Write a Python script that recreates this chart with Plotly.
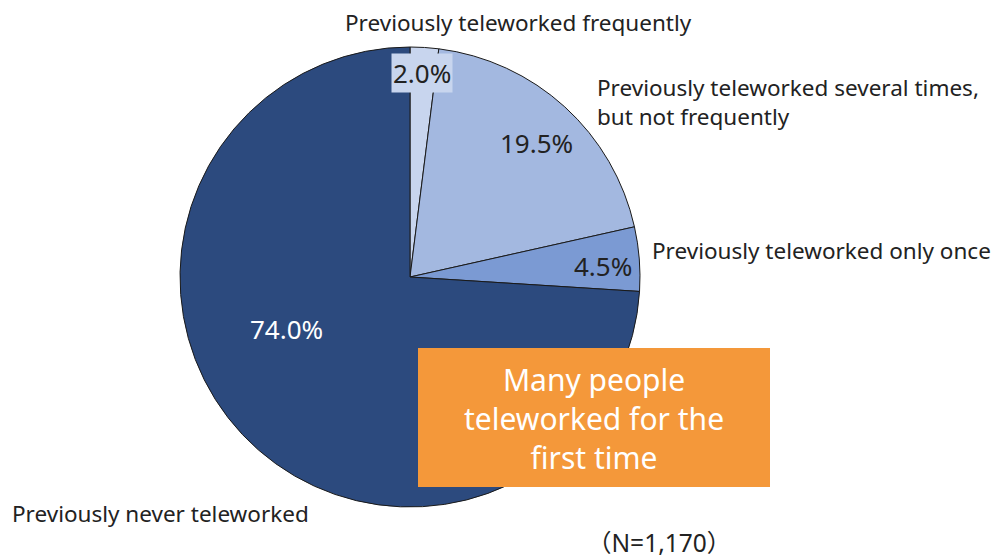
import plotly.graph_objects as go

categories = ["Previously teleworked frequently",
              "Previously teleworked several times,<br>but not frequently",
              "Previously teleworked only once",
              "Previously never teleworked"]
values = [2.0, 19.5, 4.5, 74.0]
colors = ["#c8d5ee", "#a3b8e0", "#7b9ad3", "#2c4a7e"]
note = "（N=1,170）"
callout = "Many people<br>teleworked for the<br>first time"

W, H = 998, 559
FONT = "Noto Sans"

def px(x):
    return x / W

def py(y):
    return 1 - y / H

fig = go.Figure(go.Pie(
    labels=categories, values=values, sort=False, direction="clockwise", rotation=0,
    marker=dict(colors=colors, line=dict(color="#1a1a1a", width=1)),
    textinfo="none", hoverinfo="label+percent", showlegend=False,
    domain=dict(x=[px(180), px(640)], y=[py(507), py(47)]),
))

ann = []
# percentage labels
pct_pos = [(422, 73, "#222222", "#c8d5ee"), (536, 143, "#222222", None),
           (603, 266, "#222222", None), (286, 329, "#ffffff", None)]
for v, (x, y, c, bg) in zip(values, pct_pos):
    d = dict(x=px(x), y=py(y), xref="paper", yref="paper", showarrow=False,
             text=f"{v:.1f}%", font=dict(family=FONT, size=26, color=c),
             xanchor="center", yanchor="middle")
    if bg:
        d.update(bgcolor=bg, borderpad=1)
    ann.append(d)

# category labels
cat_pos = [(343, 22), (595, 102), (650, 251), (10, 513)]
for name, (x, y) in zip(categories, cat_pos):
    ann.append(dict(x=px(x), y=py(y), xref="paper", yref="paper", showarrow=False,
                    text=name, font=dict(family=FONT, size=22.5, color="#222222"),
                    xanchor="left", yanchor="middle", align="left"))

ann.append(dict(x=px(659), y=py(542), xref="paper", yref="paper", showarrow=False,
                text=note, font=dict(family="Noto Sans, Noto Sans CJK JP", size=24.5, color="#222222"),
                xanchor="center", yanchor="middle"))

fig.add_shape(type="rect", xref="paper", yref="paper",
              x0=px(418), x1=px(770), y0=py(487), y1=py(348),
              fillcolor="#f4983a", line=dict(width=0), layer="above")
ann.append(dict(x=px(594), y=py(418), xref="paper", yref="paper", showarrow=False,
                text=callout, font=dict(family=FONT, size=30, color="#ffffff"),
                xanchor="center", yanchor="middle", align="center"))

fig.update_layout(width=W, height=H, margin=dict(l=0, r=0, t=0, b=0),
                  paper_bgcolor="white", plot_bgcolor="white", annotations=ann)

fig.write_html("out.html")
